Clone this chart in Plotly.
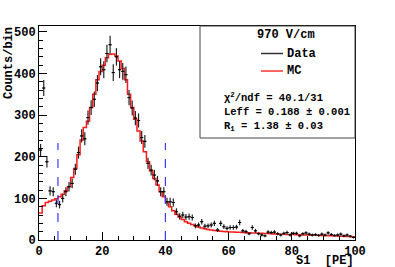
import numpy as np
import plotly.graph_objects as go

bin_edges = list(range(0, 101))
data_counts = [216, 365, 188, 118, 116, 88, 85, 100, 116, 128,
               136, 170, 210, 250, 243, 294, 318, 338, 377, 416,
               409, 448, 469, 402, 440, 409, 405, 397, 342, 317,
               293, 287, 246, 237, 184, 168, 156, 142, 116, 116,
               92, 92, 90, 68, 57, 60, 55, 56, 54, 34,
               36, 44, 33, 34, 36, 40, 24, 40, 32, 28,
               30, 30, 31, 42, 22, 20, 15, 30, 22, 15,
               12, 10, 19, 18, 19, 15, 12, 16, 18, 12,
               16, 16, 10, 15, 17, 14, 12, 13, 11, 14,
               12, 17, 13, 11, 12, 14, 10, 12, 9, 6]
mc_counts = [65, 82, 90, 93, 96, 99, 104, 110, 118, 128,
             150, 172, 205, 240, 270, 285, 318, 350, 385, 405,
             420, 438, 446, 447, 442, 430, 412, 385, 350, 318,
             290, 262, 238, 212, 188, 166, 148, 132, 116, 104,
             90, 80, 70, 62, 55, 49, 44, 40, 37, 34,
             31, 29, 27, 25.5, 24, 23, 22, 21, 20.5, 20,
             19.5, 19, 18.7, 18.4, 18, 17.6, 17.3, 17, 16.6, 16.3,
             16, 15.7, 15.4, 15, 14.7, 14.4, 14.1, 13.8, 13.5, 13.2,
             13, 12.8, 12.5, 12.3, 12, 11.8, 11.6, 11.4, 11.2, 11,
             10.7, 10.4, 10.1, 9.8, 9.5, 9.2, 8.9, 8.6, 8.3, 8]
fit_range = [6, 40]
x_ticks = [0, 20, 40, 60, 80, 100]
y_ticks = [0, 100, 200, 300, 400, 500]

centers = [(bin_edges[i] + bin_edges[i + 1]) / 2 for i in range(len(data_counts))]
half_w = [(bin_edges[i + 1] - bin_edges[i]) / 2 for i in range(len(data_counts))]
errs = [float(np.sqrt(v)) for v in data_counts]

W, H = 395, 267
L, R, T, B = 39, 355, 26, 240


def px(x):
    return (x - L) / (R - L)


def py(y):
    return (B - y) / (B - T)


fig = go.Figure()
fig.add_trace(go.Scatter(
    x=bin_edges, y=mc_counts + [mc_counts[-1]], mode="lines",
    line=dict(color="#ff1a1a", width=1.5, shape="hv"), hoverinfo="skip",
    showlegend=False))
fig.add_trace(go.Scatter(
    x=centers, y=data_counts, mode="markers",
    marker=dict(color="black", size=2, symbol="line-ew", line=dict(width=1, color="black")),
    error_y=dict(type="data", array=errs, color="#222222", thickness=1.2, width=0),
    error_x=dict(type="data", array=half_w, color="#222222", thickness=1, width=0),
    showlegend=False))

shapes = []
for xv in fit_range:
    shapes.append(dict(type="line", xref="x", yref="y", x0=xv, x1=xv, y0=0, y1=233,
                       line=dict(color="#3c3cff", width=1.2, dash="dash")))
# legend box
shapes.append(dict(type="rect", xref="paper", yref="paper", x0=px(200), x1=px(355),
                   y0=py(138), y1=py(26), line=dict(color="#444444", width=1),
                   fillcolor="white", layer="above"))
shapes.append(dict(type="line", xref="paper", yref="paper", x0=px(261), x1=px(283),
                   y0=py(53.5), y1=py(53.5), line=dict(color="#333333", width=1.5)))
shapes.append(dict(type="line", xref="paper", yref="paper", x0=px(261), x1=px(283),
                   y0=py(71), y1=py(71), line=dict(color="#ff3333", width=1.5)))

mono = "Liberation Mono, Courier New, monospace"
ann = []
ann.append(dict(x=px(286), y=py(35), text="970 V/cm", xanchor="center", yanchor="middle"))
ann.append(dict(x=px(285), y=py(53.5), text="Data", xanchor="left", yanchor="middle"))
ann.append(dict(x=px(285), y=py(71), text="MC", xanchor="left", yanchor="middle"))
stats = ["χ<sup>2</sup>/ndf = 40.1/31", "Leff = 0.188 ± 0.001", "R<sub>1</sub> = 1.38 ± 0.03"]
for i, (s, yy) in enumerate(zip(stats, [97, 112, 126])):
    ann.append(dict(x=px(222), y=py(yy), text=s, xanchor="left", yanchor="middle",
                    font=dict(family=mono, size=10.5, color="black", weight="bold")))
for a in ann[:3]:
    a["font"] = dict(family=mono, size=12, color="black", weight="bold")
for a in ann:
    a.update(xref="paper", yref="paper", showarrow=False)

fig.update_layout(
    width=W, height=H,
    margin=dict(l=L, r=W - R, t=T, b=H - B, autoexpand=False),
    paper_bgcolor="white", plot_bgcolor="white",
    shapes=shapes, annotations=ann,
    showlegend=False,
    xaxis=dict(range=[0, 100], tickvals=x_ticks, ticks="inside", ticklen=8, tickwidth=1,
               tickcolor="black", showgrid=False, zeroline=False, showline=True,
               linecolor="black", linewidth=1, mirror=True, automargin=False,
               minor=dict(dtick=5, ticks="inside", ticklen=4, tickcolor="black"),
               tickfont=dict(family=mono, size=12, color="black", weight="bold")),
    yaxis=dict(range=[0, 514], tickvals=y_ticks, ticks="inside", ticklen=8, tickwidth=1,
               tickcolor="black", showgrid=False, zeroline=False, showline=True,
               linecolor="black", linewidth=1, mirror=True, automargin=False,
               minor=dict(dtick=20, ticks="inside", ticklen=4, tickcolor="black"),
               tickfont=dict(family=mono, size=12, color="black", weight="bold")),
)
fig.add_annotation(x=px(9), y=py(63), xref="paper", yref="paper", text="Counts/bin",
                   textangle=-90, showarrow=False, xanchor="center", yanchor="middle",
                   font=dict(family=mono, size=12, color="black", weight="bold"))
fig.add_annotation(x=px(356), y=py(261), xref="paper", yref="paper", text="S1  [PE]",
                   showarrow=False, xanchor="right", yanchor="middle",
                   font=dict(family=mono, size=12, color="black", weight="bold"))
fig.write_html("out.html", config={"displayModeBar": False},
               post_script="document.body.style.margin='0';")
